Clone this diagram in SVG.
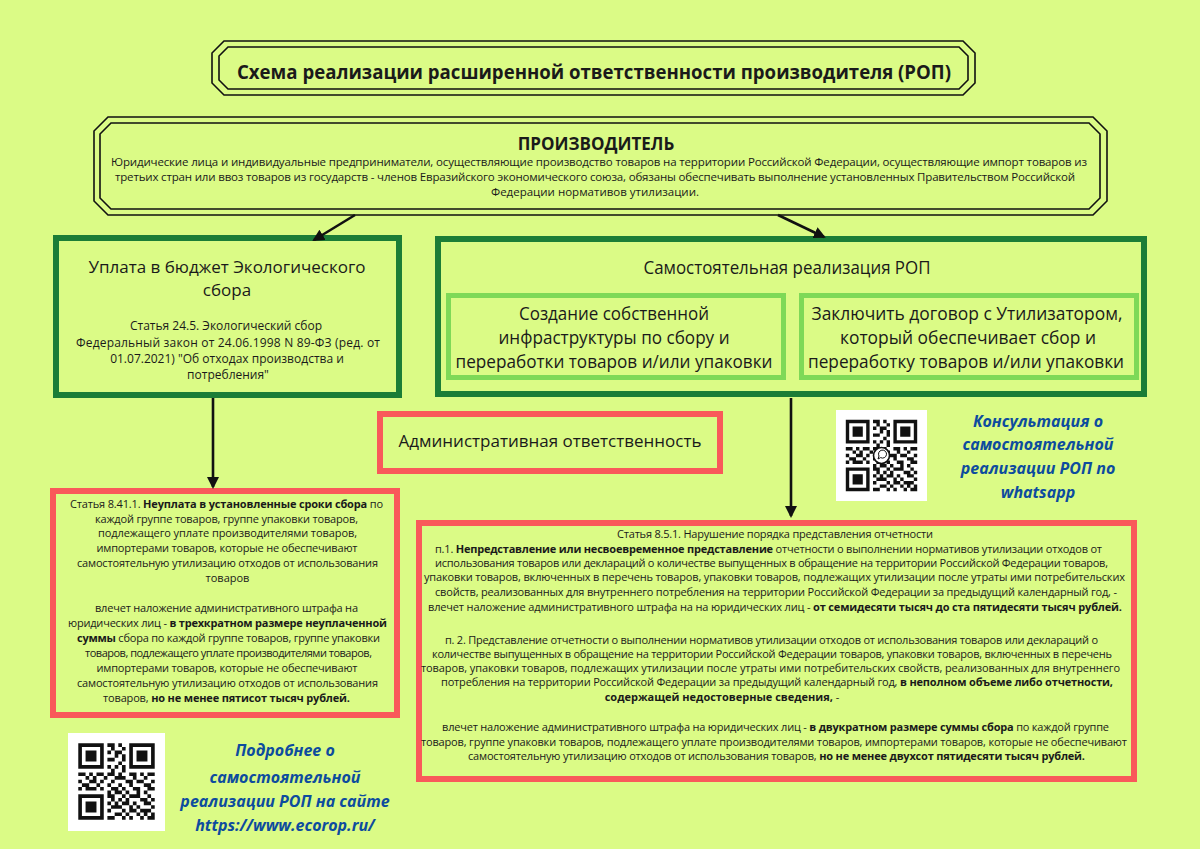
<svg xmlns="http://www.w3.org/2000/svg" xmlns:xlink="http://www.w3.org/1999/xlink" width="1200" height="849" viewBox="0 0 1200 849">
<style>
.t{font-family:"Open Sans","Liberation Sans",sans-serif;fill:#1a1a1a;text-anchor:middle}
.b{font-weight:700}
.s11{font-size:11px}
.s115{font-size:11.5px}
.s12{font-size:12px}
.s17{font-size:17px}
.s18{font-size:18px}
.blue{font-family:"Open Sans","Liberation Sans",sans-serif;font-weight:700;font-style:italic;font-size:16px;fill:#0d4c9e;text-anchor:middle}
.oct{fill:none;stroke:#111;stroke-width:1.6}
.dg{fill:none;stroke:#1b7d36;stroke-width:6}
.lg{fill:none;stroke:#7ed957;stroke-width:5}
.rd{fill:none;stroke:#f9595a;stroke-width:6}
.ln{stroke:#111;stroke-width:2.6;fill:none}
</style>
<defs>
<marker id="ah" markerUnits="userSpaceOnUse" markerWidth="14" markerHeight="14" refX="10" refY="6" orient="auto">
<path d="M0 0 L12 6 L0 12 Z" fill="#111"/>
</marker>
<symbol id="qr" viewBox="-2 -2 25 25">
<path fill="#111" fill-rule="evenodd" d="M0 0h7v7h-7zM1 1v5h5v-5zM14 0h7v7h-7zM15 1v5h5v-5zM0 14h7v7h-7zM1 15v5h5v-5z"/>
<path fill="#111" d="M2 2h3v3h-3zM16 2h3v3h-3zM2 16h3v3h-3z
M8 0h2v1h-2zM11 0h1v1h-1zM9 1h1v1h-1zM12 1h1v1h-1zM8 2h1v1h-1zM10 2h2v1h-2zM10 3h1v1h-1zM12 3h1v1h-1zM8 4h2v1h-2zM12 4h1v1h-1zM11 5h1v1h-1zM8 6h1v1h-1zM10 6h1v1h-1zM12 6h1v1h-1zM9 7h1v1h-1zM12 7h1v1h-1z
M0 8h2v1h-2zM3 8h1v1h-1zM5 8h2v1h-2zM8 8h2v1h-2zM11 8h1v1h-1zM14 8h2v1h-2zM17 8h1v1h-1zM19 8h2v1h-2z
M2 9h1v1h-1zM4 9h1v1h-1zM7 9h1v1h-1zM10 9h3v1h-3zM15 9h1v1h-1zM18 9h1v1h-1z
M0 10h1v1h-1zM3 10h2v1h-2zM6 10h1v1h-1zM9 10h1v1h-1zM13 10h2v1h-2zM16 10h2v1h-2zM20 10h1v1h-1z
M1 11h2v1h-2zM5 11h1v1h-1zM8 11h1v1h-1zM11 11h1v1h-1zM14 11h1v1h-1zM18 11h2v1h-2z
M0 12h1v1h-1zM2 12h3v1h-3zM6 12h1v1h-1zM9 12h2v1h-2zM12 12h1v1h-1zM15 12h2v1h-2zM19 12h2v1h-2z
M8 13h1v1h-1zM10 13h2v1h-2zM13 13h1v1h-1zM16 13h1v1h-1zM18 13h1v1h-1z
M8 14h2v1h-2zM12 14h1v1h-1zM14 14h3v1h-3zM19 14h1v1h-1z
M9 15h1v1h-1zM11 15h1v1h-1zM13 15h1v1h-1zM17 15h2v1h-2zM20 15h1v1h-1z
M8 16h1v1h-1zM10 16h1v1h-1zM12 16h2v1h-2zM15 16h1v1h-1zM18 16h2v1h-2z
M9 17h3v1h-3zM14 17h1v1h-1zM16 17h1v1h-1zM20 17h1v1h-1z
M8 18h1v1h-1zM12 18h1v1h-1zM14 18h2v1h-2zM17 18h3v1h-3z
M10 19h2v1h-2zM13 19h1v1h-1zM16 19h1v1h-1zM18 19h1v1h-1zM20 19h1v1h-1z
M8 20h2v1h-2zM12 20h1v1h-1zM14 20h1v1h-1zM17 20h1v1h-1zM19 20h2v1h-2z"/>
</symbol>
</defs>

<rect width="1200" height="849" fill="#dbfb86"/>

<g id="title">
<path class="oct" d="M224 41 H963 L975 53 V83 L963 95 H224 L212 83 V53 Z"/>
<path class="oct" d="M228 47 H959 L968 56 V80 L959 89 H228 L219 80 V56 Z"/>
<text class="t b" x="594" y="79" font-size="20" textLength="714" lengthAdjust="spacingAndGlyphs">Схема реализации расширенной ответственности производителя (РОП)</text>
</g>

<g id="producer">
<path class="oct" d="M108 117 H1093 L1107 131 V201 L1093 215 H108 L94 201 V131 Z"/>
<path class="oct" stroke-width="2.4" d="M111 123 H1089 L1100 134 V198 L1089 209 H111 L100 198 V134 Z"/>
<text class="t b s17" x="596" y="150">ПРОИЗВОДИТЕЛЬ</text>
<text class="t s115" x="599" y="166" textLength="976">Юридические лица и индивидуальные предприниматели, осуществляющие производство товаров на территории Российской Федерации, осуществляющие импорт товаров из</text>
<text class="t s115" x="595" y="181" textLength="960">третьих стран или ввоз товаров из государств - членов Евразийского экономического союза, обязаны обеспечивать выполнение установленных Правительством Российской</text>
<text class="t s115" x="595" y="196">Федерации нормативов утилизации.</text>
</g>

<g id="eco-fee">
<rect class="dg" x="56" y="238" width="343" height="157"/>
<text class="t s17" x="227" y="273">Уплата в бюджет Экологического</text>
<text class="t s17" x="227" y="296">сбора</text>
<text class="t s12" x="226" y="330">Статья 24.5. Экологический сбор</text>
<text class="t s12" x="228" y="347" textLength="304">Федеральный закон от 24.06.1998 N 89-ФЗ (ред. от</text>
<text class="t s12" x="227" y="363">01.07.2021) "Об отходах производства и</text>
<text class="t s12" x="228" y="379">потребления"</text>
</g>

<g id="self-rop">
<rect class="dg" x="438" y="239" width="706" height="155"/>
<text class="t s18" x="787" y="274" textLength="287" lengthAdjust="spacingAndGlyphs">Самостоятельная реализация РОП</text>
</g>

<g id="own-infra">
<rect class="lg" x="448.5" y="295.5" width="335" height="82"/>
<text class="t s18" x="614" y="320" textLength="190" lengthAdjust="spacingAndGlyphs">Создание собственной</text>
<text class="t s18" x="614" y="344" textLength="231" lengthAdjust="spacingAndGlyphs">инфраструктуры по сбору и</text>
<text class="t s18" x="614" y="368" textLength="317" lengthAdjust="spacingAndGlyphs">переработки товаров и/или упаковки</text>
</g>

<g id="contract">
<rect class="lg" x="801.5" y="295.5" width="335" height="82"/>
<text class="t s18" x="967" y="320" textLength="311" lengthAdjust="spacingAndGlyphs">Заключить договор с Утилизатором,</text>
<text class="t s18" x="968" y="344" textLength="256" lengthAdjust="spacingAndGlyphs">который обеспечивает сбор и</text>
<text class="t s18" x="966" y="368" textLength="316" lengthAdjust="spacingAndGlyphs">переработку товаров и/или упаковки</text>
</g>

<g id="admin">
<rect class="rd" x="380" y="414" width="340" height="57"/>
<text class="t s17" x="550" y="447">Административная ответственность</text>
</g>

<g id="fine-841">
<rect class="rd" x="53" y="491" width="344" height="224"/>
<text class="t s11" x="226.5" y="508" textLength="313">Статья 8.41.1. <tspan class="b">Неуплата в установленные сроки сбора</tspan> по</text>
<text class="t s11" x="226.5" y="523" textLength="263">каждой группе товаров, группе упаковки товаров,</text>
<text class="t s11" x="227.5" y="537" textLength="259">подлежащего уплате производителями товаров,</text>
<text class="t s11" x="227" y="552" textLength="261">импортерами товаров, которые не обеспечивают</text>
<text class="t s11" x="227.5" y="567" textLength="301">самостоятельную утилизацию отходов от использования</text>
<text class="t s11" x="227.5" y="582">товаров</text>
<text class="t s11" x="226.5" y="612" textLength="263">влечет наложение административного штрафа на</text>
<text class="t s11" x="227.5" y="627" textLength="319">юридических лиц - <tspan class="b">в трехкратном размере неуплаченной</tspan></text>
<text class="t s11" x="228.5" y="642" textLength="303"><tspan class="b">суммы</tspan> сбора по каждой группе товаров, группе упаковки</text>
<text class="t s11" x="228.5" y="657" textLength="287">товаров, подлежащего уплате производителями товаров,</text>
<text class="t s11" x="227" y="672" textLength="261">импортерами товаров, которые не обеспечивают</text>
<text class="t s11" x="227.5" y="687" textLength="301">самостоятельную утилизацию отходов от использования</text>
<text class="t s11" x="226.5" y="702" textLength="247">товаров, <tspan class="b">но не менее пятисот тысяч рублей.</tspan></text>
</g>

<g id="fine-851">
<rect class="rd" x="419" y="523" width="715" height="256"/>
<text class="t s11" x="775" y="538" textLength="316">Статья 8.5.1. Нарушение порядка представления отчетности</text>
<text class="t s11" x="768.5" y="553" textLength="667">п.1. <tspan class="b">Непредставление или несвоевременное представление</tspan> отчетности о выполнении нормативов утилизации отходов от</text>
<text class="t s11" x="771.5" y="567" textLength="673">использования товаров или деклараций о количестве выпущенных в обращение на территории Российской Федерации товаров,</text>
<text class="t s11" x="774.5" y="581" textLength="701">упаковки товаров, включенных в перечень товаров, упаковки товаров, подлежащих утилизации после утраты ими потребительских</text>
<text class="t s11" x="776" y="596" textLength="682">свойств, реализованных для внутреннего потребления на территории Российской Федерации за предыдущий календарный год, -</text>
<text class="t s11" x="775" y="611" textLength="694">влечет наложение административного штрафа на на юридических лиц - <tspan class="b">от семидесяти тысяч до ста пятидесяти тысяч рублей.</tspan></text>
<text class="t s11" x="771.5" y="644" textLength="653">п. 2. Представление отчетности о выполнении нормативов утилизации отходов от использования товаров или деклараций о</text>
<text class="t s11" x="772" y="658" textLength="680">количестве выпущенных в обращение на территории Российской Федерации товаров, упаковки товаров, включенных в перечень</text>
<text class="t s11" x="770.5" y="672" textLength="699">товаров, упаковки товаров, подлежащих утилизации после утраты ими потребительских свойств, реализованных для внутреннего</text>
<text class="t s11" x="777" y="686" textLength="672">потребления на территории Российской Федерации за предыдущий календарный год, <tspan class="b">в неполном объеме либо отчетности,</tspan></text>
<text class="t s11" x="722" y="701"><tspan class="b">содержащей недостоверные сведения,</tspan> -</text>
<text class="t s11" x="775.5" y="731" textLength="667">влечет наложение административного штрафа на юридических лиц - <tspan class="b">в двукратном размере суммы сбора</tspan> по каждой группе</text>
<text class="t s11" x="774" y="746" textLength="706">товаров, группе упаковки товаров, подлежащего уплате производителями товаров, импортерами товаров, которые не обеспечивают</text>
<text class="t s11" x="776.5" y="760" textLength="617">самостоятельную утилизацию отходов от использования товаров, <tspan class="b">но не менее двухсот пятидесяти тысяч рублей.</tspan></text>
</g>

<g id="qr-whatsapp">
<rect x="836" y="410" width="91" height="91" fill="#fff"/>
<use href="#qr" xlink:href="#qr" x="839" y="413" width="85" height="85"/>
<circle cx="881.5" cy="455.5" r="8" fill="#fff" stroke="#111" stroke-width="1.6"/>
<path d="M878 459 l1 -3 a4 4 0 1 1 1.6 1.6 z" fill="none" stroke="#111" stroke-width="1"/>
<text class="blue" x="1038" y="427">Консультация о</text>
<text class="blue" x="1038" y="450">самостоятельной</text>
<text class="blue" x="1038" y="474">реализации РОП по</text>
<text class="blue" x="1038" y="498">whatsapp</text>
</g>

<g id="qr-site">
<rect x="68" y="733" width="97" height="98" fill="#fff"/>
<use href="#qr" xlink:href="#qr" x="71" y="736" width="91" height="91"/>
<text class="blue" x="285" y="756">Подробнее о</text>
<text class="blue" x="285" y="783">самостоятельной</text>
<text class="blue" x="285" y="807">реализации РОП на сайте</text>
<text class="blue" x="285" y="831">https://www.ecorop.ru/</text>
</g>

<g id="connectors">
<line class="ln" x1="355" y1="215" x2="314" y2="240" marker-end="url(#ah)"/>
<line class="ln" x1="778" y1="215" x2="824" y2="237" marker-end="url(#ah)"/>
<line class="ln" x1="213" y1="398" x2="213" y2="487" marker-end="url(#ah)"/>
<line class="ln" x1="791" y1="398" x2="791" y2="516" marker-end="url(#ah)"/>
</g>
</svg>
